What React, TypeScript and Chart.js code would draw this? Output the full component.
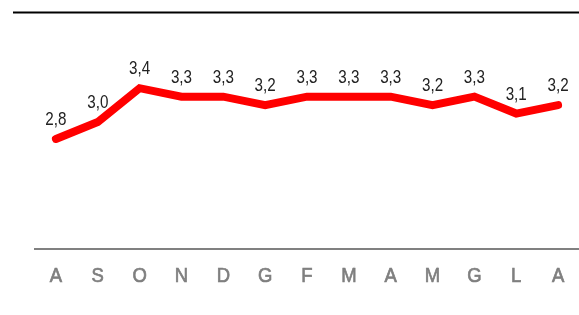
import React, { useEffect, useRef } from "react";
import { Chart, registerables } from "chart.js";

Chart.register(...registerables);

const categories = ["A", "S", "O", "N", "D", "G", "F", "M", "A", "M", "G", "L", "A"];
const values = [2.8, 3.0, 3.4, 3.3, 3.3, 3.2, 3.3, 3.3, 3.3, 3.2, 3.3, 3.1, 3.2];

const fmt = (v: number) => v.toFixed(1).replace(".", ",");
const FONT = "'Liberation Sans Narrow', 'Liberation Sans', Arial, sans-serif";

export default function App() {
  const ref = useRef<HTMLCanvasElement | null>(null);
  useEffect(() => {
    document.body.style.margin = "0";
    const canvas = ref.current!;
    const topLine = {
      id: "topLine",
      afterDraw(chart: any) {
        const ctx = chart.ctx;
        ctx.save();
        ctx.strokeStyle = "#000";
        ctx.lineWidth = 2;
        ctx.beginPath();
        ctx.moveTo(13, 12.5);
        ctx.lineTo(chart.width, 12.5);
        ctx.stroke();
        ctx.restore();
      },
    };
    const narrowText = (ctx: any, text: string, x: number, y: number, sx: number, stroke = 0) => {
      ctx.save();
      ctx.translate(x, y);
      ctx.scale(sx, 1);
      ctx.fillText(text, 0, 0);
      if (stroke > 0) {
        ctx.lineWidth = stroke;
        ctx.strokeText(text, 0, 0);
      }
      ctx.restore();
    };
    const labels = {
      id: "valueLabels",
      afterDatasetsDraw(chart: any) {
        const ctx = chart.ctx;
        const meta = chart.getDatasetMeta(0);
        ctx.save();
        ctx.fillStyle = "#222222";
        ctx.font = `19px ${FONT}`;
        ctx.textAlign = "center";
        ctx.textBaseline = "middle";
        meta.data.forEach((pt: any, i: number) => {
          narrowText(ctx, fmt(values[i]), pt.x, pt.y - 19, 0.8);
        });
        const xs = chart.scales.x;
        ctx.fillStyle = "#7f7f7f";
        ctx.strokeStyle = "#7f7f7f";
        ctx.font = `21px ${FONT}`;
        categories.forEach((c, i) => {
          narrowText(ctx, c, xs.getPixelForTick(i), 276, 0.88, 0.7);
        });
        ctx.restore();
      },
    };
    const chart = new Chart(canvas, {
      type: "line",
      data: {
        labels: categories,
        datasets: [
          {
            data: values,
            borderColor: "#ff0000",
            borderWidth: 8,
            borderCapStyle: "round",
            borderJoinStyle: "miter",
            pointRadius: 0,
            tension: 0,
            fill: false,
          },
        ],
      },
      options: {
        animation: false,
        responsive: false,
        maintainAspectRatio: false,
        layout: { padding: { left: 35, top: 12, right: -2, bottom: 0 } },
        plugins: { legend: { display: false }, tooltip: { enabled: false } },
        scales: {
          x: {
            offset: true,
            grid: { display: false, drawTicks: false },
            border: { display: true, color: "#808080", width: 2 },
            ticks: { display: false },
            afterFit(scale: any) {
              scale.height = 66;
            },
          },
          y: {
            display: false,
            min: 1.5,
            max: 4.3,
          },
        },
      },
      plugins: [topLine, labels],
    });
    return () => chart.destroy();
  }, []);
  return <canvas ref={ref} width={579} height={315} style={{ display: "block" }} />;
}
